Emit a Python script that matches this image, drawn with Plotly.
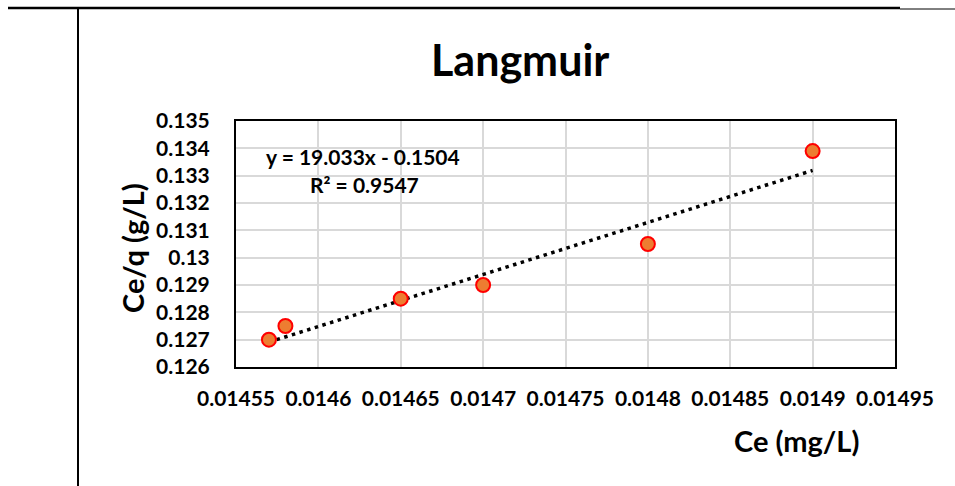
import plotly.graph_objects as go

# Data
ce = [0.01457, 0.01458, 0.01465, 0.0147, 0.0148, 0.0149]
ce_q = [0.127, 0.1275, 0.1285, 0.129, 0.1305, 0.1339]
slope = 19.033
intercept = -0.1504
r2 = 0.9547

x_ticks = [0.01455, 0.0146, 0.01465, 0.0147, 0.01475, 0.0148, 0.01485, 0.0149, 0.01495]
x_ticktext = ["0.01455", "0.0146", "0.01465", "0.0147", "0.01475", "0.0148", "0.01485", "0.0149", "0.01495"]
y_ticks = [0.126, 0.127, 0.128, 0.129, 0.13, 0.131, 0.132, 0.133, 0.134, 0.135]
y_ticktext = ["0.126", "0.127", "0.128", "0.129", "0.13", "0.131", "0.132", "0.133", "0.134", "0.135"]

FONT = "Lato"
W, H = 955, 486
L, R, T, B = 236, 60, 121, 119
pw, ph = W - L - R, H - T - B

def px_x(p):
    return (p - L) / pw

def px_y(p):
    return (H - B - p) / ph

trend_x = [min(ce), max(ce)]
trend_y = [slope * v + intercept for v in trend_x]

fig = go.Figure()
fig.add_trace(go.Scatter(
    x=trend_x, y=trend_y, mode="lines",
    line=dict(color="black", width=3.5, dash="3.5px,4.5px"),
    showlegend=False, hoverinfo="skip"))
fig.add_trace(go.Scatter(
    x=ce, y=ce_q, mode="markers",
    marker=dict(size=14, color="#ED7D31", line=dict(color="#FF0000", width=2)),
    showlegend=False))

fig.update_layout(
    width=W, height=H,
    margin=dict(l=L, r=R, t=T, b=B),
    paper_bgcolor="white", plot_bgcolor="white",
    font=dict(family=FONT, color="black"),
    xaxis=dict(range=[0.01455, 0.01495], tickvals=x_ticks, ticktext=x_ticktext,
               showgrid=True, gridcolor="#D9D9D9", gridwidth=1.5,
               showline=True, linecolor="black", linewidth=2, mirror=True,
               zeroline=False, ticks="", ticklabelstandoff=12,
               tickfont=dict(family=FONT, size=21, color="black", weight="bold")),
    yaxis=dict(range=[0.126, 0.135], tickvals=y_ticks, ticktext=y_ticktext,
               showgrid=True, gridcolor="#D9D9D9", gridwidth=1.5,
               showline=True, linecolor="black", linewidth=2, mirror=True,
               zeroline=False, ticks="", ticklabelstandoff=20,
               tickfont=dict(family=FONT, size=21, color="black", weight="bold")),
    annotations=[
        dict(text="<b>Langmuir</b>", xref="paper", yref="paper",
             x=px_x(520), y=px_y(60), showarrow=False,
             font=dict(family=FONT, size=43, color="black"),
             xanchor="center", yanchor="middle"),
        dict(text="<b>Ce/q (g/L)</b>", xref="paper", yref="paper",
             x=px_x(132), y=px_y(248), showarrow=False, textangle=-90,
             font=dict(family=FONT, size=29, color="black"),
             xanchor="center", yanchor="middle"),
        dict(text="<b>Ce (mg/L)</b>", xref="paper", yref="paper",
             x=px_x(796), y=px_y(440), showarrow=False,
             font=dict(family=FONT, size=29, color="black"),
             xanchor="center", yanchor="middle"),
        dict(text=f"<b>y = {slope}x - {abs(intercept)}</b>", xref="paper", yref="paper",
             x=px_x(363), y=px_y(156), showarrow=False,
             font=dict(family=FONT, size=21, color="black"),
             xanchor="center", yanchor="middle"),
        dict(text=f"<b>R² = {r2}</b>", xref="paper", yref="paper",
             x=px_x(364), y=px_y(184), showarrow=False,
             font=dict(family=FONT, size=21, color="black"),
             xanchor="center", yanchor="middle"),
    ],
    shapes=[
        dict(type="line", xref="paper", yref="paper",
             x0=px_x(8), x1=px_x(900), y0=px_y(8), y1=px_y(8),
             line=dict(color="black", width=2.5)),
        dict(type="line", xref="paper", yref="paper",
             x0=px_x(900), x1=px_x(955), y0=px_y(9), y1=px_y(9),
             line=dict(color="black", width=1)),
        dict(type="line", xref="paper", yref="paper",
             x0=px_x(78), x1=px_x(78), y0=px_y(9), y1=px_y(486),
             line=dict(color="black", width=2)),
    ],
)

fig.write_html("out.html", config={"displayModeBar": False},
               post_script="document.body.style.margin='0';document.body.style.overflow='hidden';")
